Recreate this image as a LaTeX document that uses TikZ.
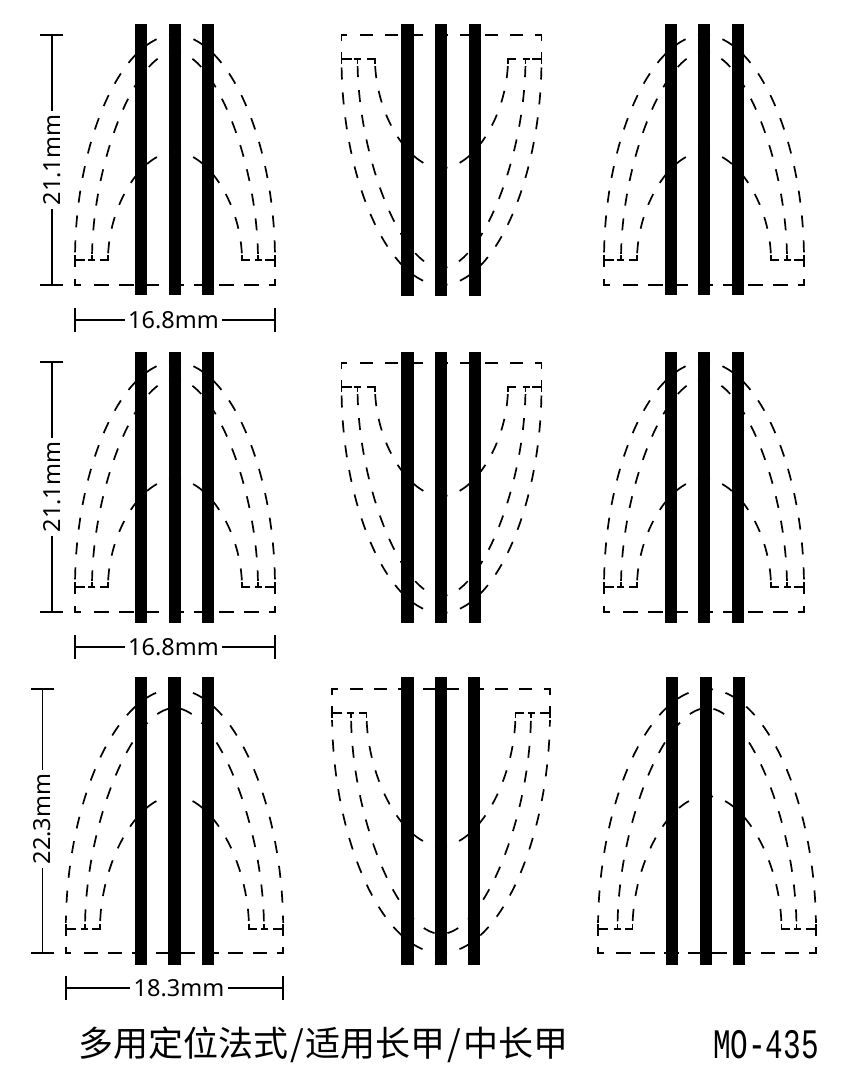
\documentclass[tikz,border=0pt]{standalone}
\usepackage{fontspec}
\setmainfont{Noto Sans}
\newfontfamily\cjkfont{Noto Sans CJK SC}
\newfontfamily\latinmono{Liberation Mono}
\tikzset{
  barline/.style={fill=black,draw=none},
  archline/.style={line width=1.7pt,black,dash pattern=on 12pt off 13pt},
  solidbit/.style={line width=1.7pt,black,line cap=butt},
  dimline/.style={line width=1.4pt,black},
  dimlabel/.style={font=\fontsize{23.5pt}{24pt}\selectfont,inner sep=0pt,outer sep=3.5pt,black},
}
% half of the nail: #1 W, #2 a2, #3 a3, #4 hbase, #5 h1, #6 h2, #7 h3, #8 phase of middle arch
\newcommand{\halfnail}[8]{
  \begin{scope}
  \clip (-#1-3,-#5-5) rectangle (3,-#4-7);
  \draw[archline,dash phase=6pt] (0,-#5) .. controls (-0.53*#1,-#5) and (-#1,{-#4-0.53*(#5-#4)}) .. (-#1,-#4);
  \draw[archline,dash phase=#8] (0,-#6) .. controls (-0.47*#2,-#6) and (-#2,{-#4-0.47*(#6-#4)}) .. (-#2,-#4);
  \draw[archline,dash phase=6pt] (0,-#7) .. controls (-0.5*#3,-#7) and (-#3,{-#4-0.5*(#7-#4)}) .. (-#3,-#4);
  \end{scope}
  \draw[solidbit] (-#1,-#4-5) -- (-#1,-#4+7);
  \draw[solidbit] (-#1,-#4) -- (-#1+10,-#4);
  \draw[solidbit] (-#2,-#4-5) -- (-#2,-#4) (-#2-4,-#4) -- (-#2+3,-#4);
  \draw[solidbit] (-#3,-#4-5) -- (-#3,-#4) -- (-#3-8,-#4);
}
% #1 cx, #2 y of base line, #3 y direction, #4 W, #5 a2, #6 a3, #7 hbase, #8 h1, #9 h2
\newcommand{\nail}[9]{\def\ncx{#1}\def\nyl{#2}\def\nsg{#3}\def\nW{#4}\def\naB{#5}\def\naC{#6}\def\nhb{#7}\def\nhA{#8}\def\nhB{#9}\nailrest}
% #1 h3, #2 middle phase, #3 first dash offset, #4 on, #5 off
\newcommand{\nailrest}[5]{
  \begin{scope}[shift={(\ncx,\nyl)},yscale=\nsg]
    \halfnail{\nW}{\naB}{\naC}{\nhb}{\nhA}{\nhB}{#1}{#2}
    \begin{scope}[xscale=-1]
      \halfnail{\nW}{\naB}{\naC}{\nhb}{\nhA}{\nhB}{#1}{#2}
    \end{scope}
    \draw[solidbit] (-\nW,-6) -- (-\nW,0) -- (-\nW+5.5,0);
    \draw[solidbit] (\nW,-6) -- (\nW,0) -- (\nW-6,0);
    \draw[solidbit,dash pattern=on #4pt off #5pt] (-\nW+#3,0) -- (\nW-6,0);
  \end{scope}
}
\newcommand{\bars}[5]{
  \fill[barline] (#1-6.2,#4) rectangle (#1+6.2,#5);
  \fill[barline] (#2-6.2,#4) rectangle (#2+6.2,#5);
  \fill[barline] (#3-6.2,#4) rectangle (#3+6.2,#5);
}
\begin{document}
\begin{tikzpicture}[x=1pt,y=-1pt]
\useasboundingbox (0,0) rectangle (850,1087);
% row 1
\nail{175}{285}{1}{100}{83}{67}{25}{250}{233}{133}{6pt}{19}{15}{10}
\nail{441.5}{35}{-1}{100}{84}{66.5}{24}{250}{233}{133}{6pt}{18.5}{13}{12}
\nail{704}{285}{1}{100}{83}{67}{25}{250}{233}{133}{6pt}{19}{15}{10}
\bars{141}{175}{208}{24}{295}
\bars{407.5}{441}{475}{24}{295.5}
\bars{671}{704}{738}{24}{295}
% row 2
\nail{175}{612}{1}{100}{83}{67}{25}{250}{233}{133}{6pt}{19}{15}{10}
\nail{441.5}{363}{-1}{100}{84}{66.5}{24}{250}{233}{133}{6pt}{18.5}{13}{12}
\nail{704}{612}{1}{100}{83}{67}{25}{250}{233}{133}{6pt}{19}{15}{10}
\bars{141}{175}{208}{352}{623}
\bars{407.5}{441}{475}{352}{623}
\bars{671}{704}{738}{352}{623}
% row 3
\nail{174.5}{953}{1}{108.7}{89.5}{74.5}{24}{264}{245}{157}{18.5pt}{18}{14.5}{9.6}
\nail{441}{689}{-1}{109}{90}{74.5}{24}{264}{245}{157}{18.5pt}{18}{12.5}{11.7}
\nail{707}{953}{1}{109}{89.5}{74.5}{24}{264}{245}{157}{18.5pt}{18}{14.5}{9.6}
\bars{141}{174.5}{208}{677}{964.5}
\bars{407.5}{441}{474}{677}{964.5}
\bars{672}{706}{739}{677}{964.5}
% dimensions
\foreach \id/\xv/\ya/\yb/\yl/\xl/\xr/\yh/\txa/\txb/\xt in {
  a/52/35/285/160/75/275/320/21.1mm/16.8mm/173.5,
  b/52/362/612/487/75/275/647/21.1mm/16.8mm/173.5,
  c/42.5/689/953/819/66/283/988/22.3mm/18.3mm/179}{
  \coordinate (\id vt) at (\xv,\ya);
  \coordinate (\id vb) at (\xv,\yb);
  \coordinate (\id hl) at (\xl,\yh);
  \coordinate (\id hr) at (\xr,\yh);
  \node[dimlabel,rotate=90] (\id vlab) at (\xv,\yl) {\txa};
  \node[dimlabel] (\id hlab) at (\xt,\yh) {\txb};
  \draw[dimline] (\id vt) -- (\id vlab);
  \draw[dimline] (\id vb) -- (\id vlab);
  \draw[dimline] (\id hl) -- (\id hlab);
  \draw[dimline] (\id hr) -- (\id hlab);
  \draw[dimline] ([xshift=-12pt]\id vt) -- ([xshift=11pt]\id vt);
  \draw[dimline] ([xshift=-12pt]\id vb) -- ([xshift=11pt]\id vb);
  \draw[dimline] ([yshift=-12pt]\id hl) -- ([yshift=12pt]\id hl);
  \draw[dimline] ([yshift=-12pt]\id hr) -- ([yshift=12pt]\id hr);
}
% caption
\node[anchor=west,inner sep=0pt,font={\cjkfont\fontsize{35pt}{36pt}\selectfont}] (title) at (78,1045)
  {多用定位法式\makebox[17.5pt]{/}适用长甲\makebox[17.5pt]{/}中长甲};
\node[anchor=east,inner sep=0pt,xscale=0.7,font={\latinmono\fontsize{42pt}{44pt}\selectfont}] (code) at (819,1045) {MO-435};
\end{tikzpicture}
\end{document}
